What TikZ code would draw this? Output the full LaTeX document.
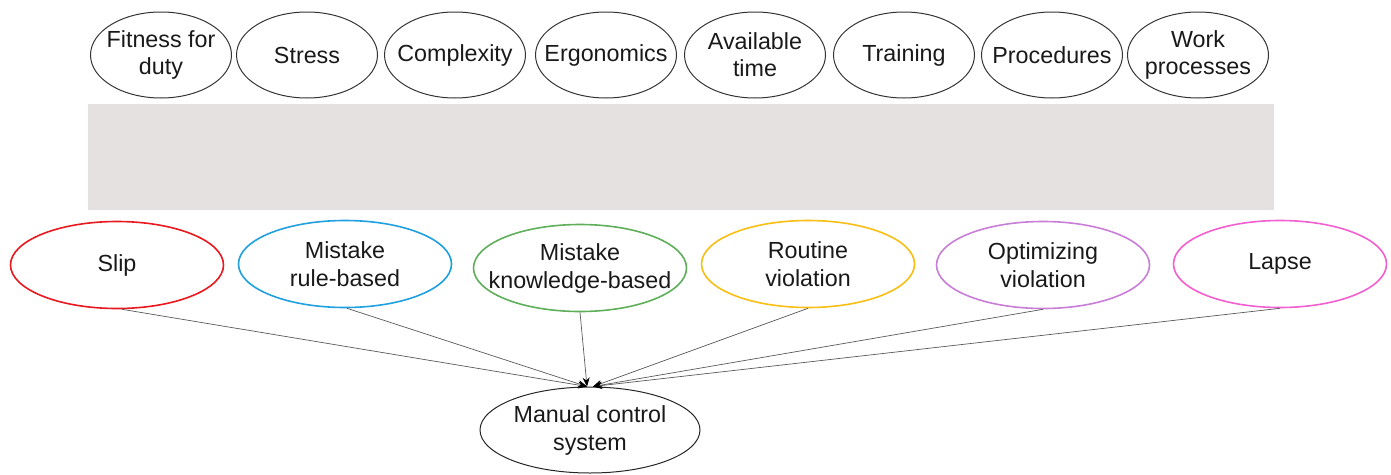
\documentclass[tikz,border=0pt]{standalone}
\usepackage{fontspec}
\setmainfont{Liberation Sans}
\usetikzlibrary{shapes.geometric,arrows.meta}
\definecolor{bandgray}{RGB}{229,225,224}
\definecolor{cslip}{RGB}{232,24,30}
\definecolor{crule}{RGB}{30,160,225}
\definecolor{cknow}{RGB}{95,175,90}
\definecolor{crout}{RGB}{248,190,20}
\definecolor{copt}{RGB}{200,125,215}
\definecolor{clapse}{RGB}{242,95,208}
\definecolor{txt}{RGB}{25,25,25}
\tikzset{
  lbl/.style={align=center, text=txt, inner sep=0pt, font=\fontsize{23.3}{27}\selectfont},
  lblb/.style={align=center, text=txt, inner sep=0pt, font=\fontsize{23.3}{28}\selectfont},
  pref/.style={ellipse, draw=black!80, line width=1pt, minimum width=141pt, minimum height=86pt, inner sep=0pt},
  errnode/.style={ellipse, line width=1.6pt, minimum width=213pt, minimum height=87pt, inner sep=0pt},
  conn/.style={draw=black!65, line width=0.7pt, -{Stealth[length=9pt,width=7pt,black]}}
}
\begin{document}
\begin{tikzpicture}[x=1pt,y=-1pt]
\useasboundingbox (0,0) rectangle (1391,474);
\fill[bandgray] (88,104) rectangle (1274,210);
\node[pref, label={[lbl]center:{Fitness for\\duty}}] (f1) at (161,55) {};
\node[pref, label={[lbl]center:{Stress}}] (f2) at (307,55) {};
\node[pref, label={[lbl]center:{Complexity}}] (f3) at (455,55) {};
\node[pref, label={[lbl]center:{Ergonomics}}] (f4) at (606,55) {};
\node[pref, label={[lbl]center:{Available\\time}}] (f5) at (755,55) {};
\node[pref, label={[lbl]center:{Training}}] (f6) at (904,55) {};
\node[pref, label={[lbl]center:{Procedures}}] (f7) at (1052,55) {};
\node[pref, label={[lbl]center:{Work\\processes}}] (f8) at (1198,55) {};
\node[errnode, draw=cslip, label={[lblb]center:{Slip}}] (e1) at (117,265) {};
\node[errnode, draw=crule, label={[lblb]center:{Mistake\\rule-based}}] (e2) at (345,264) {};
\node[errnode, draw=cknow, label={[lblb]center:{Mistake\\knowledge-based}}] (e3) at (580,268) {};
\node[errnode, draw=crout, label={[lblb]center:{Routine\\violation}}] (e4) at (808,264) {};
\node[errnode, draw=copt, label={[lblb]center:{Optimizing\\violation}}] (e5) at (1043,265) {};
\node[errnode, draw=clapse, label={[lblb]center:{Lapse}}] (e6) at (1280,264) {};
\node[ellipse, draw=black!85, line width=1pt, minimum width=220pt, minimum height=86pt, inner sep=0pt, label={[lblb]center:{Manual control\\system}}] (m) at (590,430) {};
\coordinate (t1) at ([xshift=-3pt]m.north);
\coordinate (t2) at ([xshift=3pt]m.north);
\draw[conn] ([xshift=5pt]e1.south) -- (t1);
\draw[conn] ([xshift=2pt]e2.south) -- (t1);
\draw[conn] (e3.south) -- (t1);
\draw[conn] (e4.south) -- (t2);
\draw[conn] (e5.south) -- (t2);
\draw[conn] (e6.south) -- (t2);
\end{tikzpicture}
\end{document}
